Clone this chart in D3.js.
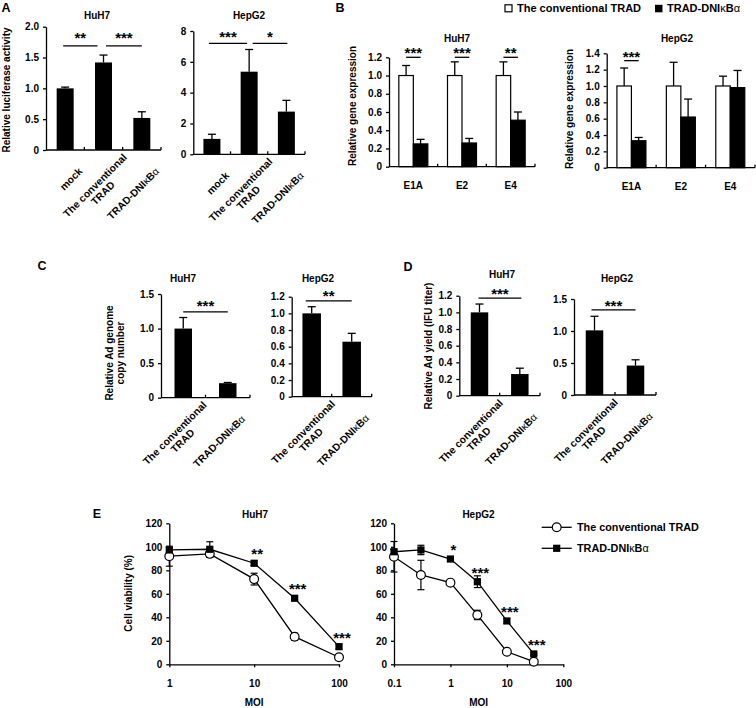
<!DOCTYPE html>
<html>
<head>
<meta charset="utf-8">
<script src="https://cdn.jsdelivr.net/npm/d3@7"></script>
<style>
body { margin: 0; background: #fff; }
svg text { font-family: "Liberation Sans", Arial, Helvetica, sans-serif; font-weight: bold; fill: #000; }
.domain, .tick line { stroke: #000; stroke-width: 1.3px; }
</style>
</head>
<body>
<svg id="fig" width="756" height="708"></svg>
<script>
// ---------- values ----------
var barLabels = ["mock", "The conventional\nTRAD", "TRAD-DNIκBα"];
var barLabels2 = ["The conventional\nTRAD", "TRAD-DNIκBα"];

// A: luciferase activity
var lucHuh7 = [1.0, 1.42, 0.52];
var lucHuh7Err = [0.02, 0.12, 0.10];
var lucHepg2 = [1.0, 5.36, 2.77];
var lucHepg2Err = [0.30, 1.44, 0.73];
var sigLucHuh7 = [[0, 1, 1.69, "**"], [1, 2, 1.69, "***"]];
var sigLucHepg2 = [[0, 1, 7.2, "***"], [1, 2, 7.2, "*"]];

// B: gene expression
var genes = ["E1A", "E2", "E4"];
var geneHuh7Conv = [1.0, 1.0, 1.0];
var geneHuh7ConvErr = [0.11, 0.15, 0.15];
var geneHuh7Dn = [0.25, 0.26, 0.51];
var geneHuh7DnErr = [0.05, 0.05, 0.09];
var geneHepg2Conv = [1.0, 1.0, 1.0];
var geneHepg2ConvErr = [0.22, 0.29, 0.12];
var geneHepg2Dn = [0.33, 0.62, 0.98];
var geneHepg2DnErr = [0.04, 0.22, 0.21];
var sigGeneHuh7 = [[0, 1.2, "***"], [1, 1.2, "***"], [2, 1.2, "**"]];
var sigGeneHepg2 = [[0, 1.31, "***"]];

// C: genome copy number
var copyHuh7 = [1.0, 0.21];
var copyHuh7Err = [0.16, 0.01];
var copyHepg2 = [1.0, 0.66];
var copyHepg2Err = [0.08, 0.10];
var sigCopyHuh7 = [[0, 1, 1.24, "***"]];
var sigCopyHepg2 = [[0, 1, 1.15, "**"]];

// D: Ad yield
var yieldHuh7 = [1.0, 0.26];
var yieldHuh7Err = [0.10, 0.07];
var yieldHepg2 = [1.01, 0.46];
var yieldHepg2Err = [0.22, 0.09];
var sigYieldHuh7 = [[0, 1, 1.17, "***"]];
var sigYieldHepg2 = [[0, 1, 1.33, "***"]];

// E: cell viability
var moiHuh7 = [1, 3, 10, 30, 100];
var viaHuh7Conv = [92, 94, 72.5, 23.5, 6];
var viaHuh7ConvErr = [8.5, 3, 5, 3, 2];
var viaHuh7Dn = [97.3, 97.9, 86, 56.2, 15];
var viaHuh7DnErr = [2, 6.4, 2, 1.5, 2];
var sigViaHuh7 = ["", "", "**", "***", "***"];
var moiHepg2 = [0.1, 0.3, 1, 3, 10, 30];
var viaHepg2Conv = [91.5, 76, 69.5, 42, 10.7, 2.2];
var viaHepg2ConvErr = [13, 12.5, 2, 4, 2, 1];
var viaHepg2Dn = [95.8, 97.3, 89.6, 70.3, 36.9, 8.8];
var viaHepg2DnErr = [2, 4, 2, 5, 2, 1];
var sigViaHepg2 = ["", "", "*", "***", "***", "***"];

// ---------- drawing ----------
var svg = d3.select('#fig');
var dec1 = function(d) { return d === 0 ? "0" : d3.format(".1f")(d); };
var plain = function(d) { return String(d); };

// put a string into a text element, Greek letters in normal weight
function addLabel(sel, str) {
    str.split(/([κα])/).forEach(function(p) {
        if (!p) return;
        var t = sel.append('tspan').text(p);
        if (p === 'κ' || p === 'α') t.attr('font-weight', 'normal');
    });
}

function text(x, y, str, size, anchor) {
    var t = svg.append('text').attr('x', x).attr('y', y)
        .attr('font-size', size).attr('text-anchor', anchor || 'middle');
    addLabel(t, str);
    return t;
}

function yLabel(x, y, lines, size) {
    var t = svg.append('text').attr('transform', 'translate(' + x + ',' + y + ') rotate(-90)')
        .attr('text-anchor', 'middle').attr('font-size', size);
    lines.forEach(function(l, i) {
        t.append('tspan').attr('x', 0).attr('dy', i === 0 ? (0.35 - (lines.length - 1) * 0.55) + 'em' : '1.1em').text(l);
    });
}

function yAxis(g, x0, y, ticks, fmt) {
    g.append('g').attr('transform', 'translate(' + x0 + ',0)')
        .call(d3.axisLeft(y).tickValues(ticks).tickFormat(fmt).tickSize(3).tickSizeOuter(0).tickPadding(4))
        .call(function(a) { a.selectAll('text').attr('font-size', 10).attr('font-family', null); });
}

// x axis line with short inward ticks between categories
function catAxis(g, x0, x1, y0, n) {
    g.append('line').attr('x1', x0).attr('x2', x1).attr('y1', y0).attr('y2', y0)
        .attr('stroke', '#000').attr('stroke-width', 1.3);
    var step = (x1 - x0) / n;
    d3.range(1, n + 1).forEach(function(i) {
        g.append('line').attr('x1', x0 + step * i).attr('x2', x0 + step * i)
            .attr('y1', y0).attr('y2', y0 - 3).attr('stroke', '#000').attr('stroke-width', 1.3);
    });
}

function rotLabels(g, xs, y0, labels) {
    labels.forEach(function(lab, i) {
        var lines = lab.split('\n');
        var two = lines.length > 1;
        var off = two ? [24, 8] : [18, 22];
        var lg = g.append('g').attr('transform', 'translate(' + (xs[i] + off[0]) + ',' + (y0 + off[1]) + ') rotate(-45)');
        var t1 = lg.append('text').attr('text-anchor', 'end').attr('font-size', 10.3);
        addLabel(t1, lines[0]);
        if (two) {
            var L = t1.node().getComputedTextLength();
            var t2 = lg.append('text').attr('text-anchor', 'middle').attr('x', -L / 2).attr('y', 11).attr('font-size', 10.3);
            addLabel(t2, lines[1]);
        }
    });
}

function errUp(g, cx, y, v, e, cap) {
    g.append('line').attr('x1', cx).attr('x2', cx).attr('y1', y(v)).attr('y2', y(v + e))
        .attr('stroke', '#000').attr('stroke-width', 1.3);
    g.append('line').attr('x1', cx - cap / 2).attr('x2', cx + cap / 2).attr('y1', y(v + e)).attr('y2', y(v + e))
        .attr('stroke', '#000').attr('stroke-width', 1.3);
}

function sigMark(g, xa, xb, ly, label, dy) {
    g.append('line').attr('x1', xa).attr('x2', xb).attr('y1', ly).attr('y2', ly)
        .attr('stroke', '#000').attr('stroke-width', 1.3);
    g.append('text').attr('x', (xa + xb) / 2).attr('y', ly + dy).attr('text-anchor', 'middle')
        .attr('font-size', 15).attr('font-weight', 'normal').text(label);
}

function barPanel(o) {
    var n = o.vals.length;
    var p = 1 - o.barW * n / (o.x1 - o.x0);
    var x = d3.scaleBand().domain(d3.range(n)).range([o.x0, o.x1]).paddingInner(p).paddingOuter(p / 2);
    var y = d3.scaleLinear().domain([0, o.yMax]).range([o.y0, o.yTop]);
    var cx = function(i) { return x(i) + x.bandwidth() / 2; };
    var g = svg.append('g');

    o.vals.forEach(function(v, i) { errUp(g, cx(i), y, v, o.errs[i], 8); });
    g.selectAll('rect.bar').data(o.vals).join('rect').attr('class', 'bar')
        .attr('x', function(d, i) { return x(i); }).attr('width', x.bandwidth())
        .attr('y', function(d) { return y(d); })
        .attr('height', function(d) { return o.y0 - y(d); })
        .attr('fill', '#000');

    yAxis(g, o.x0, y, o.ticks, o.fmt);
    catAxis(g, o.x0, o.x1, o.y0, n);
    rotLabels(g, d3.range(n).map(cx), o.y0, o.cats);
    text(o.tx, o.ty, o.title, 10);

    o.sig.forEach(function(s, k) {
        var pad = o.sigPad[k] || [0, 0];
        sigMark(g, cx(s[0]) + pad[0], cx(s[1]) + pad[1], y(s[2]), s[3], o.sigDy);
    });
}

function groupPanel(o) {
    var x = d3.scaleBand().domain(d3.range(genes.length)).range([o.x0, o.x1]);
    var inner = d3.scaleBand().domain([0, 1]).range([-14.5, 14.5]);
    var y = d3.scaleLinear().domain([0, o.yMax]).range([o.y0, o.yTop]);
    var cx = function(i) { return x(i) + x.bandwidth() / 2; };
    var g = svg.append('g');
    var series = [
        {vals: o.conv, errs: o.convErr, fill: '#fff'},
        {vals: o.dn, errs: o.dnErr, fill: '#000'}
    ];
    series.forEach(function(s, k) {
        s.vals.forEach(function(v, i) {
            errUp(g, cx(i) + inner(k) + inner.bandwidth() / 2, y, v, s.errs[i], 8);
        });
        g.selectAll('rect.s' + k).data(s.vals).join('rect').attr('class', 's' + k)
            .attr('x', function(d, i) { return cx(i) + inner(k); })
            .attr('width', inner.bandwidth())
            .attr('y', function(d) { return y(d); })
            .attr('height', function(d) { return o.y0 - y(d); })
            .attr('fill', s.fill).attr('stroke', '#000').attr('stroke-width', 1.2);
    });
    yAxis(g, o.x0, y, o.ticks, dec1);
    catAxis(g, o.x0, o.x1, o.y0, genes.length);
    genes.forEach(function(gname, i) { text(cx(i), o.y0 + 22, gname, 10); });
    text(o.tx, o.ty, o.title, 10);
    o.sig.forEach(function(s) {
        var a = cx(s[0]) + inner(0) + inner.bandwidth() / 2;
        var b = cx(s[0]) + inner(1) + inner.bandwidth() / 2;
        sigMark(g, a, b, y(s[1]), s[2], 1);
    });
}

function linePanel(o) {
    var x = d3.scaleLog().domain(o.xDom).range([o.x0, o.x1]);
    var y = d3.scaleLinear().domain([0, 120]).range([664.3, 523.3]);
    var g = svg.append('g');

    yAxis(g, o.x0, y, d3.range(0, 121, 20), plain);
    g.append('g').attr('transform', 'translate(0,' + y(0) + ')')
        .call(d3.axisBottom(x).tickValues(o.xTicks).tickFormat(plain).tickSize(3).tickSizeOuter(0).tickPadding(13))
        .call(function(a) { a.selectAll('text').attr('font-size', 10).attr('font-family', null); });
    text((o.x0 + o.x1) / 2, 706, "MOI", 10);
    text(o.tx, 518, o.title, 10);

    var sets = [
        {vals: o.conv, errs: o.convErr},
        {vals: o.dn, errs: o.dnErr}
    ];
    sets.forEach(function(s) {
        s.vals.forEach(function(v, i) {
            var px = x(o.moi[i]);
            g.append('line').attr('x1', px).attr('x2', px).attr('y1', y(v - s.errs[i])).attr('y2', y(v + s.errs[i]))
                .attr('stroke', '#000').attr('stroke-width', 1.2);
            [v - s.errs[i], v + s.errs[i]].forEach(function(e) {
                g.append('line').attr('x1', px - 3.5).attr('x2', px + 3.5).attr('y1', y(e)).attr('y2', y(e))
                    .attr('stroke', '#000').attr('stroke-width', 1.2);
            });
        });
    });
    var line = d3.line().x(function(d, i) { return x(o.moi[i]); }).y(function(d) { return y(d); });
    sets.forEach(function(s) {
        g.append('path').datum(s.vals).attr('d', line)
            .attr('fill', 'none').attr('stroke', '#000').attr('stroke-width', 1.3);
    });
    g.selectAll('circle.c').data(o.conv).join('circle').attr('class', 'c')
        .attr('cx', function(d, i) { return x(o.moi[i]); }).attr('cy', function(d) { return y(d); })
        .attr('r', 4.4).attr('fill', '#fff').attr('stroke', '#000').attr('stroke-width', 1.2);
    g.selectAll('rect.q').data(o.dn).join('rect').attr('class', 'q')
        .attr('x', function(d, i) { return x(o.moi[i]) - 3.6; }).attr('y', function(d) { return y(d) - 3.6; })
        .attr('width', 7.2).attr('height', 7.2).attr('fill', '#000');
    o.sig.forEach(function(s, i) {
        if (!s) return;
        g.append('text').attr('x', x(o.moi[i]) + 3).attr('y', y(o.dn[i]) - 4)
            .attr('text-anchor', 'middle').attr('font-size', 15).attr('font-weight', 'normal').text(s);
    });
}

// panel letters
text(6, 12, "A", 12.5);
text(340, 12, "B", 12.5);
text(42, 270, "C", 12.5);
text(408, 271, "D", 12.5);
text(97, 518, "E", 12.5);

// A
yLabel(6, 90, ["Relative luciferase activity"], 10);
barPanel({x0: 46, x1: 161, y0: 150, yTop: 26.7, yMax: 2, ticks: [0, 0.5, 1, 1.5, 2], fmt: dec1,
    barW: 17, cats: barLabels, vals: lucHuh7, errs: lucHuh7Err, title: "HuH7", tx: 97, ty: 18.5,
    sig: sigLucHuh7, sigPad: [[-2, -6], [2.5, 0]], sigDy: -3});
barPanel({x0: 193.3, x1: 305, y0: 154.3, yTop: 31, yMax: 8, ticks: [0, 2, 4, 6, 8], fmt: plain,
    barW: 17, cats: barLabels, vals: lucHepg2, errs: lucHepg2Err, title: "HepG2", tx: 249, ty: 18.5,
    sig: sigLucHepg2, sigPad: [[-3, -2], [3.5, 1]], sigDy: -1});

// B
var lg = svg.append('g');
lg.append('rect').attr('x', 505).attr('y', 4.8).attr('width', 7).attr('height', 7)
    .attr('fill', '#fff').attr('stroke', '#000').attr('stroke-width', 1.2);
text(517, 12, "The conventional TRAD", 11, 'start');
lg.append('rect').attr('x', 655).attr('y', 4.8).attr('width', 7.5).attr('height', 7.5).attr('fill', '#000');
text(667, 12, "TRAD-DNIκBα", 11, 'start');

yLabel(352, 106, ["Relative gene expression"], 10);
groupPanel({x0: 389, x1: 535, y0: 166.7, yTop: 57.3, yMax: 1.2, ticks: d3.range(0, 1.21, 0.2),
    conv: geneHuh7Conv, convErr: geneHuh7ConvErr, dn: geneHuh7Dn, dnErr: geneHuh7DnErr,
    title: "HuH7", tx: 457, ty: 41.5, sig: sigGeneHuh7});
yLabel(569, 109, ["Relative gene expression"], 10);
groupPanel({x0: 606.7, x1: 755, y0: 167.7, yTop: 53.3, yMax: 1.4, ticks: d3.range(0, 1.41, 0.2),
    conv: geneHepg2Conv, convErr: geneHepg2ConvErr, dn: geneHepg2Dn, dnErr: geneHepg2DnErr,
    title: "HepG2", tx: 677, ty: 41.5, sig: sigGeneHepg2});

// C
yLabel(115, 353, ["Relative Ad genome", "copy number"], 10);
barPanel({x0: 161, x1: 250, y0: 397.7, yTop: 294, yMax: 1.5, ticks: [0, 0.5, 1, 1.5], fmt: dec1,
    barW: 17.5, cats: barLabels2, vals: copyHuh7, errs: copyHuh7Err, title: "HuH7", tx: 183, ty: 281.7,
    sig: sigCopyHuh7, sigPad: [[0, 0]], sigDy: -1});
barPanel({x0: 291.7, x1: 371.7, y0: 396.7, yTop: 296.7, yMax: 1.2, ticks: d3.range(0, 1.21, 0.2), fmt: dec1,
    barW: 18.5, cats: barLabels2, vals: copyHepg2, errs: copyHepg2Err, title: "HepG2", tx: 318, ty: 281.7,
    sig: sigCopyHepg2, sigPad: [[-6, 0]], sigDy: 0});

// D
yLabel(428.5, 346, ["Relative Ad yield (IFU titer)"], 10);
barPanel({x0: 459.3, x1: 540, y0: 395.7, yTop: 295.7, yMax: 1.2, ticks: d3.range(0, 1.21, 0.2), fmt: dec1,
    barW: 17.5, cats: barLabels2, vals: yieldHuh7, errs: yieldHuh7Err, title: "HuH7", tx: 502, ty: 278.4,
    sig: sigYieldHuh7, sigPad: [[-1, 1.5]], sigDy: 1});
barPanel({x0: 574, x1: 656, y0: 395, yTop: 299, yMax: 1.5, ticks: [0, 0.5, 1, 1.5], fmt: dec1,
    barW: 17.5, cats: barLabels2, vals: yieldHepg2, errs: yieldHepg2Err, title: "HepG2", tx: 617, ty: 281.7,
    sig: sigYieldHepg2, sigPad: [[-3, 0]], sigDy: 1});

// E
yLabel(128.5, 593.3, ["Cell viability (%)"], 10);
linePanel({x0: 169.3, x1: 339, xDom: [1, 100], xTicks: [1, 10, 100], moi: moiHuh7,
    conv: viaHuh7Conv, convErr: viaHuh7ConvErr, dn: viaHuh7Dn, dnErr: viaHuh7DnErr,
    sig: sigViaHuh7, title: "HuH7", tx: 255});
linePanel({x0: 394, x1: 563.3, xDom: [0.1, 100], xTicks: [0.1, 1, 10, 100], moi: moiHepg2,
    conv: viaHepg2Conv, convErr: viaHepg2ConvErr, dn: viaHepg2Dn, dnErr: viaHepg2DnErr,
    sig: sigViaHepg2, title: "HepG2", tx: 478.5});

// E legend
var el = svg.append('g');
[[527.3, 'c', "The conventional TRAD"], [548.3, 's', "TRAD-DNIκBα"]].forEach(function(r) {
    el.append('line').attr('x1', 541.7).attr('x2', 571.7).attr('y1', r[0]).attr('y2', r[0])
        .attr('stroke', '#000').attr('stroke-width', 1.3);
    if (r[1] === 'c') {
        el.append('circle').attr('cx', 556.7).attr('cy', r[0]).attr('r', 4.4)
            .attr('fill', '#fff').attr('stroke', '#000').attr('stroke-width', 1.2);
    } else {
        el.append('rect').attr('x', 553.1).attr('y', r[0] - 3.6).attr('width', 7.2).attr('height', 7.2).attr('fill', '#000');
    }
    text(577, r[0] + 3.7, r[2], 10.8, 'start');
});
</script>
</body>
</html>
